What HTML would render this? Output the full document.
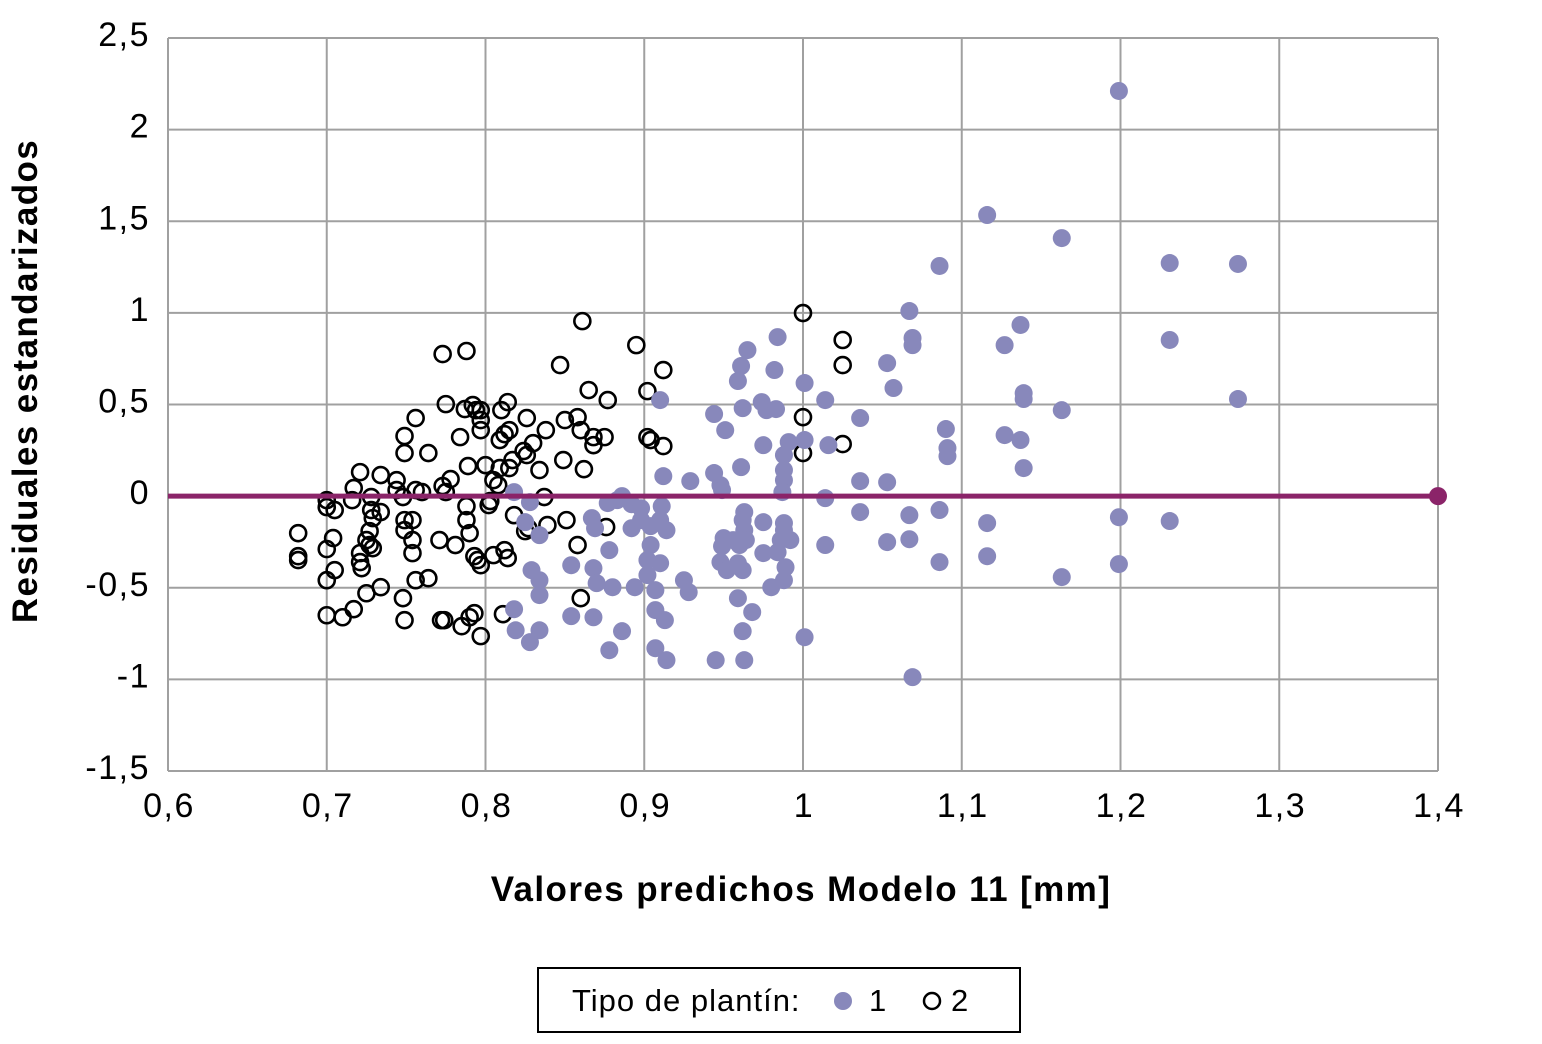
<!DOCTYPE html>
<html><head><meta charset="utf-8"><style>
html,body{margin:0;padding:0;background:#fff;}
svg{display:block;font-family:"Liberation Sans",Arial,sans-serif;}
</style></head><body>
<svg id="chart" width="1542" height="1044" viewBox="0 0 1542 1044" xmlns="http://www.w3.org/2000/svg">
<rect width="1542" height="1044" fill="#fff"/>
<g id="grid"></g>
<g id="ticks" font-size="34" letter-spacing="1.5" fill="#000"></g>
<g id="series2"></g>
<g id="series1"></g>
<g id="refline"></g>
<text x="37" y="381" transform="rotate(-90 37 381)" text-anchor="middle" font-size="35" letter-spacing="1.4" font-weight="bold">Residuales estandarizados</text>
<text x="801" y="901" text-anchor="middle" font-size="35" letter-spacing="1.4" font-weight="bold">Valores predichos Modelo 11 [mm]</text>
<g>
<rect x="538" y="968" width="482" height="64" fill="#fff" stroke="#000" stroke-width="2"/>
<text x="572" y="1011" font-size="31" letter-spacing="1">Tipo de plantín:</text>
<circle cx="843" cy="1001" r="9" fill="#8888bb"/>
<text x="869" y="1011" font-size="31">1</text>
<circle cx="932" cy="1001" r="8" fill="none" stroke="#000" stroke-width="2.5"/>
<text x="951" y="1011" font-size="31">2</text>
</g>
</svg>
<script>
const xTicks=[0.6,0.7,0.8,0.9,1,1.1,1.2,1.3,1.4];
const xTickLabels=["0,6","0,7","0,8","0,9","1","1,1","1,2","1,3","1,4"];
const yTicks=[2.5,2,1.5,1,0.5,0,-0.5,-1,-1.5];
const yTickLabels=["2,5","2","1,5","1","0,5","0","-0,5","-1","-1,5"];
const refLineX=[0.6,1.4];
const refLineY=[0,0];
const t1x=[1.199,1.116,1.163,1.086,1.231,1.274,1.067,1.137,1.069,1.127,1.069,1.231,0.984,0.965,0.961,1.053,1.057,1.274,1.014,1.001,0.982,0.959,0.910,1.139,1.139,1.163,1.036,0.944,0.962,0.974,0.977,0.983,1.090,0.951,0.975,0.991,1.127,1.137,1.091,1.091,0.988,0.988,0.988,1.016,1.001,0.961,1.139,0.944,0.929,0.912,1.036,1.053,0.948,0.949,0.987,0.886,0.883,0.877,0.892,0.898,0.911,1.014,0.818,0.828,1.231,1.199,1.116,1.086,1.067,1.036,0.975,0.963,0.962,0.963,0.988,0.988,0.986,0.992,0.964,0.956,0.984,0.975,0.960,0.950,0.949,0.959,0.948,0.952,0.962,0.910,0.914,0.904,0.892,0.898,0.869,0.867,0.878,0.904,0.910,0.902,0.902,0.907,0.894,0.880,0.854,0.868,0.870,0.834,0.825,0.834,0.834,0.829,0.818,0.819,0.828,0.834,0.854,0.868,0.886,0.878,0.907,0.914,0.907,0.913,0.925,0.928,0.945,0.963,0.962,0.968,0.959,0.988,0.989,0.980,1.001,1.014,1.053,1.086,1.116,1.163,1.199,1.069,1.067];
const t1y=[2.211,1.534,1.408,1.256,1.272,1.267,1.010,0.934,0.863,0.824,0.824,0.852,0.868,0.797,0.710,0.726,0.590,0.530,0.524,0.617,0.688,0.628,0.524,0.562,0.530,0.469,0.426,0.448,0.480,0.513,0.469,0.475,0.366,0.360,0.278,0.295,0.333,0.306,0.262,0.218,0.224,0.142,0.087,0.278,0.306,0.158,0.153,0.126,0.082,0.109,0.082,0.076,0.060,0.033,0.022,0,-0.022,-0.038,-0.044,-0.066,-0.055,-0.011,0.022,-0.033,-0.136,-0.115,-0.147,-0.076,-0.104,-0.087,-0.142,-0.087,-0.131,-0.186,-0.147,-0.186,-0.240,-0.240,-0.240,-0.240,-0.306,-0.311,-0.267,-0.229,-0.273,-0.366,-0.360,-0.404,-0.404,-0.131,-0.186,-0.164,-0.175,-0.131,-0.175,-0.120,-0.295,-0.267,-0.366,-0.349,-0.431,-0.513,-0.497,-0.497,-0.377,-0.393,-0.475,-0.213,-0.142,-0.459,-0.540,-0.404,-0.617,-0.732,-0.797,-0.732,-0.655,-0.661,-0.737,-0.841,-0.830,-0.895,-0.622,-0.677,-0.459,-0.524,-0.895,-0.895,-0.737,-0.633,-0.557,-0.459,-0.388,-0.497,-0.770,-0.267,-0.251,-0.360,-0.328,-0.442,-0.371,-0.988,-0.235];
const t2x=[0.700,0.700,0.705,0.682,0.682,0.682,0.700,0.700,0.700,0.710,0.705,0.704,0.717,0.721,0.722,0.721,0.721,0.717,0.716,0.728,0.728,0.729,0.727,0.725,0.727,0.729,0.725,0.734,0.734,0.734,0.744,0.744,0.748,0.749,0.749,0.748,0.749,0.749,0.749,0.756,0.756,0.754,0.754,0.754,0.756,0.764,0.764,0.760,0.771,0.775,0.773,0.778,0.781,0.773,0.788,0.775,0.784,0.787,0.789,0.792,0.794,0.797,0.797,0.797,0.788,0.788,0.790,0.793,0.795,0.797,0.800,0.802,0.803,0.805,0.808,0.809,0.809,0.810,0.814,0.812,0.815,0.817,0.818,0.815,0.814,0.805,0.812,0.824,0.826,0.827,0.825,0.830,0.838,0.834,0.837,0.826,0.847,0.850,0.858,0.860,0.862,0.860,0.861,0.865,0.868,0.868,0.875,0.877,0.876,0.895,0.902,0.902,0.904,0.912,0.912,0.849,0.851,0.839,0.858,0.774,0.772,0.785,0.790,0.793,0.797,0.811,1.000,1.000,1.000,1.025,1.025,1.025];
const t2y=[-0.022,-0.060,-0.076,-0.202,-0.328,-0.349,-0.289,-0.459,-0.650,-0.661,-0.404,-0.229,-0.617,-0.360,-0.393,-0.311,0.131,0.044,-0.022,-0.005,-0.076,-0.120,-0.191,-0.240,-0.267,-0.284,-0.530,-0.497,0.115,-0.087,0.087,0.033,-0.005,-0.131,-0.186,-0.557,-0.677,0.328,0.235,0.426,0.033,-0.131,-0.240,-0.311,-0.459,0.235,-0.448,0.022,-0.240,0.022,0.055,0.093,-0.267,0.775,0.792,0.502,0.322,0.475,0.164,0.497,0.469,0.469,0.415,0.360,-0.055,-0.131,-0.202,-0.328,-0.349,-0.377,0.169,-0.049,-0.027,0.087,0.060,0.153,0.306,0.469,0.513,0.338,0.360,0.197,-0.104,0.153,-0.338,-0.322,-0.295,0.246,0.224,-0.175,-0.191,0.289,0.360,0.142,-0.005,0.426,0.715,0.415,0.431,0.360,0.147,-0.557,0.955,0.579,0.322,0.278,0.322,0.524,-0.169,0.824,0.573,0.322,0.306,0.688,0.273,0.197,-0.131,-0.158,-0.267,-0.677,-0.677,-0.710,-0.661,-0.639,-0.764,-0.644,0.999,0.431,0.235,0.852,0.715,0.284];

const NS="http://www.w3.org/2000/svg";
const L=168,R=1438,T=38,B=771;
function sx(v){return L+(v-0.6)/(1.4-0.6)*(R-L);}
function sy(v){return T+(2.5-v)/(2.5-(-1.5))*(B-T);}
function mk(tag,attrs,parent){const e=document.createElementNS(NS,tag);for(const k in attrs)e.setAttribute(k,attrs[k]);parent.appendChild(e);return e;}
const grid=document.getElementById('grid'),ticks=document.getElementById('ticks');
xTicks.forEach((v,i)=>{
  const ln=mk('line',{x1:sx(v),x2:sx(v),y1:T,y2:B,stroke:'#a0a0a0','stroke-width':2},grid);
  
  
  const t=mk('text',{x:sx(v)+1,y:817,'text-anchor':'middle'},ticks);
  t.textContent=xTickLabels[i];
  
  
});
yTicks.forEach((v,i)=>{
  const ln=mk('line',{x1:L,x2:R,y1:sy(v),y2:sy(v),stroke:'#a0a0a0','stroke-width':2},grid);
  
  
  const t=mk('text',{x:150,y:sy(v)+8,'text-anchor':'end'},ticks);
  t.textContent=yTickLabels[i];
  
  
});
const s1=document.getElementById('series1'),s2=document.getElementById('series2');
t2x.forEach((v,i)=>{
  const c=mk('circle',{cx:sx(v),cy:sy(t2y[i]),r:8,fill:'none',stroke:'#000','stroke-width':2.6},s2);
  
  
});
t1x.forEach((v,i)=>{
  const c=mk('circle',{cx:sx(v),cy:sy(t1y[i]),r:9,fill:'#8888bb'},s1);
  
  
});
const rl=document.getElementById('refline');
const line=mk('line',{x1:sx(refLineX[0]),x2:sx(refLineX[1]),y1:sy(refLineY[0]),y2:sy(refLineY[1]),stroke:'#8b2469','stroke-width':5},rl);


const dot=mk('circle',{cx:sx(refLineX[1]),cy:sy(refLineY[1]),r:9,fill:'#8b2469'},rl);


</script>
</body></html>
